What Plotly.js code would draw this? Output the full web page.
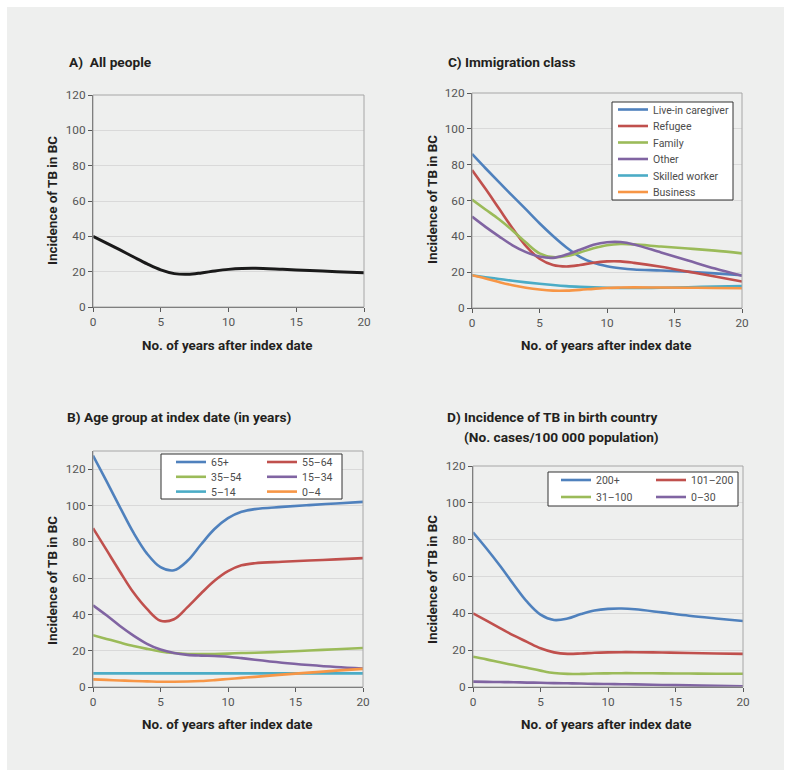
<!DOCTYPE html>
<html><head><meta charset="utf-8">
<script src="https://cdn.plot.ly/plotly-3.0.1.min.js"></script>
<style>html,body{margin:0;padding:0;background:#fff}</style>
</head><body><div id="chart" style="width:791px;height:777px"></div>
<script>
// ---------- data ----------
const years = [0,1,2,3,4,5,6,7,8,9,10,11,12,14,16,18,20];

// A) All people
const allPeople = [40,36.2,32.3,28.3,24.4,21,18.9,18.5,19.3,20.4,21.3,21.8,21.9,21.3,20.6,20,19.4];

// C) Immigration class
const immigrationNames = ['Live-in caregiver','Refugee','Family','Other','Skilled worker','Business'];
const caregiver = [86,78,70.2,62.6,55,47.3,40.2,33.8,28.6,25.2,23.3,22.2,21.5,20.9,20.2,19.3,18.3];
const refugee   = [77,66.5,55.5,44.5,34.5,27.5,24,23.2,24,25.3,26,26,25.2,23,20.3,17.6,14.8];
const family    = [60.5,55,49.5,43.3,36.5,30.5,28.4,29,31,33.3,35,35.7,35.5,34.3,33.2,32,30.5];
const other     = [51,45.3,40,35,31.2,28.7,28,29.8,32.5,35.3,36.7,36.8,35.5,31,26.5,22,18];
const skilled   = [18.3,17.2,16.2,15.2,14.3,13.5,12.8,12.2,11.8,11.5,11.3,11.2,11.2,11.3,11.6,12,12.3];
const business  = [18.3,16.5,14.5,12.7,11.3,10.3,9.7,9.7,10.1,10.7,11.2,11.4,11.5,11.4,11.3,11.2,11];

// B) Age group at index date
const ageNames = ['65+','55\u201364','35\u201354','15\u201334','5\u201314','0\u20134'];
const age65  = [127.5,113.4,99,85,73.5,66,64.3,69.5,78.5,87,93,96.5,98,99.2,100.2,101.1,102];
const age55  = [87.5,75.5,63.5,52,43,36.5,37.3,44,51.5,58.5,63.8,67,68.2,69,69.7,70.3,71];
const age35  = [28.5,26.5,24.5,22.6,21,19.6,18.7,18.2,18.1,18.2,18.4,18.7,18.9,19.4,20.1,20.8,21.5];
const age15  = [45,39.5,33.6,28.3,23.8,20.6,18.7,17.7,17.3,17.1,16.7,15.9,15,13.4,12.1,11,10.2];
const age5   = [7.5,7.5,7.5,7.5,7.5,7.5,7.5,7.5,7.5,7.5,7.5,7.5,7.5,7.5,7.5,7.5,7.5];
const age0   = [4.2,3.9,3.6,3.3,3.1,2.9,2.9,3,3.3,3.8,4.4,5,5.6,6.8,7.9,9,10];

// D) Incidence of TB in birth country
const birthNames = ['200+','101\u2013200','31\u2013100','0\u201330'];
const inc200 = [84,75.2,65.8,55.8,46.3,39.3,36.4,37.2,39.6,41.5,42.4,42.6,42.2,40.5,38.7,37.2,35.8];
const inc101 = [40,36,32,28,24.5,21,18.8,18,18.2,18.6,18.8,18.9,18.9,18.7,18.5,18.2,18];
const inc31  = [16.4,15,13.4,11.9,10.4,8.9,7.6,7.1,7.1,7.3,7.4,7.5,7.5,7.4,7.3,7.2,7.2];
const inc0   = [2.9,2.8,2.7,2.6,2.4,2.3,2.1,2,1.9,1.7,1.6,1.5,1.4,1.1,0.9,0.6,0.4];

const xTicks = [0,5,10,15,20];
const yTicks = [0,20,40,60,80,100,120];

// ---------- style ----------
const FONT = 'Roboto, "Noto Sans", sans-serif';
const COL = {blue:'#4F81BD', red:'#C0504D', green:'#9BBB59', purple:'#8064A2', aqua:'#4BACC6', orange:'#F79646'};
const W = 791, H = 777;
const px = v => v / W;
const py = v => 1 - v / H;

function tr(x, y, name, color, xa, ya, legend, group, width) {
  return {x: x, y: y, name: name, type: 'scatter', mode: 'lines',
    line: {color: color, width: width || 2.6, shape: 'spline', smoothing: 1},
    xaxis: xa, yaxis: ya, legend: legend || undefined, legendgroup: group || undefined,
    showlegend: !!legend, hoverinfo: 'skip'};
}

const data = [
  tr(years, allPeople, 'All people', '#1a1a1a', 'x', 'y', null, null, 3),

  tr(years, caregiver, immigrationNames[0], COL.blue, 'x2', 'y2', 'legend'),
  tr(years, refugee,   immigrationNames[1], COL.red, 'x2', 'y2', 'legend'),
  tr(years, family,    immigrationNames[2], COL.green, 'x2', 'y2', 'legend'),
  tr(years, other,     immigrationNames[3], COL.purple, 'x2', 'y2', 'legend'),
  tr(years, skilled,   immigrationNames[4], COL.aqua, 'x2', 'y2', 'legend'),
  tr(years, business,  immigrationNames[5], COL.orange, 'x2', 'y2', 'legend'),

  tr(years, age65, ageNames[0], COL.blue, 'x3', 'y3', 'legend2', 'bL'),
  tr(years, age55, ageNames[1], COL.red, 'x3', 'y3', 'legend2', 'bR'),
  tr(years, age35, ageNames[2], COL.green, 'x3', 'y3', 'legend2', 'bL'),
  tr(years, age15, ageNames[3], COL.purple, 'x3', 'y3', 'legend2', 'bR'),
  tr(years, age5,  ageNames[4], COL.aqua, 'x3', 'y3', 'legend2', 'bL'),
  tr(years, age0,  ageNames[5], COL.orange, 'x3', 'y3', 'legend2', 'bR'),

  tr(years, inc200, birthNames[0], COL.blue, 'x4', 'y4', 'legend3', 'dL'),
  tr(years, inc101, birthNames[1], COL.red, 'x4', 'y4', 'legend3', 'dR'),
  tr(years, inc31,  birthNames[2], COL.green, 'x4', 'y4', 'legend3', 'dL'),
  tr(years, inc0,   birthNames[3], COL.purple, 'x4', 'y4', 'legend3', 'dR')
];

const tickFont = {family: FONT, size: 11.8, color: '#555555'};
function xAxis(d0, d1, anchor) {
  return {domain: [d0, d1], anchor: anchor, range: [0, 20], tickvals: xTicks,
    showgrid: false, zeroline: false, showline: true, linecolor: '#595959', linewidth: 1,
    ticks: 'outside', ticklen: 4, tickcolor: '#595959', tickfont: tickFont, fixedrange: true};
}
function yAxis(d0, d1, anchor, top) {
  return {domain: [d0, d1], anchor: anchor, range: [0, top], tickvals: yTicks,
    showgrid: true, gridcolor: '#d9d9d9', gridwidth: 1, zeroline: false,
    showline: true, linecolor: '#595959', linewidth: 1,
    ticks: 'outside', ticklen: 4, tickcolor: '#595959', tickfont: tickFont, fixedrange: true};
}

const titleFont = {family: FONT, size: 13.7, color: '#231f20', weight: 'bold'};
const axTitleFont = {family: FONT, size: 13.4, color: '#231f20', weight: 'bold'};
function ann(text, x, y, xanchor, font, angle) {
  return {text: text, x: px(x), y: py(y), xref: 'paper', yref: 'paper', showarrow: false,
    xanchor: xanchor, yanchor: 'middle', font: font, textangle: angle || 0};
}

const annotations = [
  ann('A)\u00a0 All people', 67, 62, 'left', titleFont),
  ann('C) Immigration class', 446, 62, 'left', titleFont),
  ann('B) Age group at index date (in years)', 65, 417, 'left', titleFont),
  ann('D) Incidence of TB in birth country', 445, 417, 'left', titleFont),
  ann('(No. cases/100 000 population)', 462, 437, 'left', titleFont),
  ann('Incidence of TB in BC', 52, 200, 'center', axTitleFont, -90),
  ann('Incidence of TB in BC', 432, 200, 'center', axTitleFont, -90),
  ann('Incidence of TB in BC', 52, 580, 'center', axTitleFont, -90),
  ann('Incidence of TB in BC', 432, 580, 'center', axTitleFont, -90),
  ann('No. of years after index date', 227, 345, 'center', axTitleFont),
  ann('No. of years after index date', 606, 345, 'center', axTitleFont),
  ann('No. of years after index date', 227, 724, 'center', axTitleFont),
  ann('No. of years after index date', 606, 724, 'center', axTitleFont)
];

function frame(xa, ya) {
  return {type: 'rect', xref: xa + ' domain', yref: ya + ' domain', x0: 0, x1: 1, y0: 0, y1: 1,
    line: {color: '#a6a6a6', width: 1}, layer: 'above'};
}
function legendBox(x0, y0, x1, y1) {
  return {type: 'rect', xref: 'paper', yref: 'paper', x0: px(x0), x1: px(x1), y0: py(y1), y1: py(y0),
    fillcolor: '#ffffff', line: {color: '#333333', width: 1}, layer: 'above'};
}
const shapes = [
  {type: 'rect', xref: 'paper', yref: 'paper', x0: px(7), x1: px(784), y0: py(770), y1: py(7),
    fillcolor: '#eeefee', line: {width: 0}, layer: 'below'},
  frame('x', 'y'), frame('x2', 'y2'), frame('x3', 'y3'), frame('x4', 'y4'),
  legendBox(612, 102, 733, 200),
  legendBox(161, 454, 342, 499),
  legendBox(548, 472, 738, 506)
];

const legFont = {family: FONT, size: 10.5, color: '#4d4d4d'};
const legBase = {xanchor: 'left', yanchor: 'top', bgcolor: 'rgba(0,0,0,0)', borderwidth: 0, font: legFont};
const layout = {
  width: W, height: H, margin: {l: 0, r: 0, t: 0, b: 0},
  paper_bgcolor: '#ffffff', plot_bgcolor: '#ffffff',
  font: {family: FONT},
  xaxis:  xAxis(px(93), px(364), 'y'),   yaxis:  yAxis(py(307), py(95), 'x', 120),
  xaxis2: xAxis(px(472), px(742), 'y2'), yaxis2: yAxis(py(308), py(93), 'x2', 120),
  xaxis3: xAxis(px(93), px(363), 'y3'),  yaxis3: yAxis(py(687), py(451), 'x3', 130),
  xaxis4: xAxis(px(473), px(743), 'y4'), yaxis4: yAxis(py(687), py(466), 'x4', 120),
  legend:  Object.assign({}, legBase, {x: px(613), y: py(102), traceorder: 'normal'}),
  legend2: Object.assign({}, legBase, {x: px(171), y: py(454), orientation: 'h',
            traceorder: 'grouped', entrywidth: 46}),
  legend3: Object.assign({}, legBase, {x: px(556), y: py(472), orientation: 'h',
            traceorder: 'grouped', entrywidth: 50}),
  annotations: annotations,
  shapes: shapes,
  showlegend: true
};

// tighten legend row spacing to match the reference boxes
function compactLegend(cls, first, step) {
  const lg = document.querySelector('g.' + cls);
  if (!lg) return;
  const items = Array.from(lg.querySelectorAll('g.traces'));
  const parse = el => {
    const m = /translate\(\s*([-\d.e]+)[ ,]+([-\d.e]+)\s*\)/.exec(el.getAttribute('transform') || '');
    return m ? [parseFloat(m[1]), parseFloat(m[2])] : null;
  };
  const key = v => Math.round(v * 10) / 10;
  const ys = Array.from(new Set(items.map(el => { const p = parse(el); return p ? key(p[1]) : null; })))
    .filter(v => v !== null).sort((a, b) => a - b);
  items.forEach(el => {
    const p = parse(el);
    if (!p) return;
    const i = ys.indexOf(key(p[1]));
    el.setAttribute('transform', 'translate(' + p[0] + ',' + (first + i * step) + ')');
  });
}

Plotly.newPlot('chart', data, layout, {displayModeBar: false, staticPlot: true}).then(function () {
  compactLegend('legend', 7.5, 16.5);
  compactLegend('legend2', 8, 14.8);
  compactLegend('legend3', 8, 17);
});
</script></body></html>
